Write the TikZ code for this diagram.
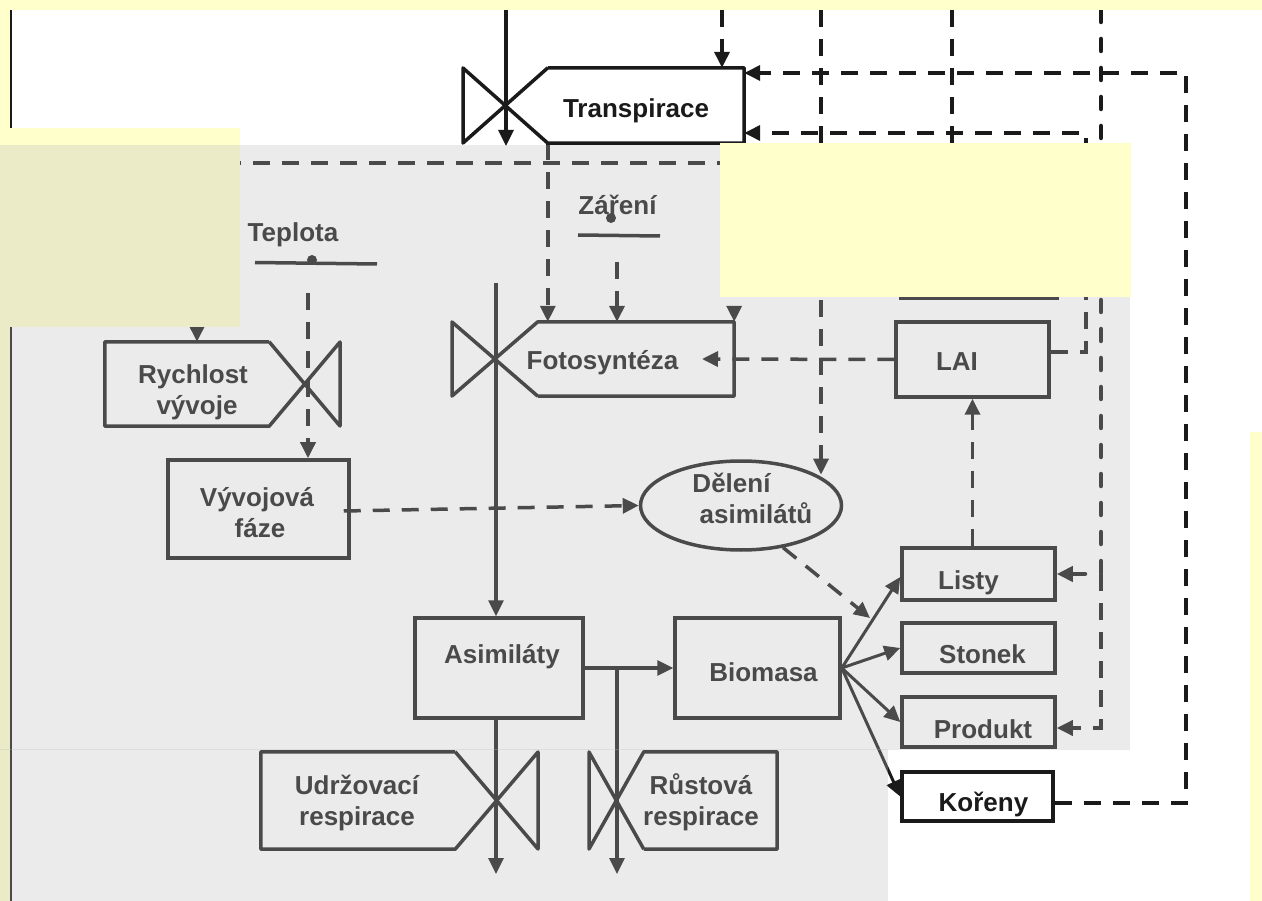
\documentclass[tikz,border=0pt]{standalone}
\usepackage{fontspec}
\setmainfont{Liberation Sans}
\usetikzlibrary{arrows.meta,calc,shapes.geometric}
\definecolor{ink}{RGB}{26,26,26}
\definecolor{paleyellow}{RGB}{255,255,204}
\definecolor{veil}{RGB}{190,190,190}
\begin{document}
\begin{tikzpicture}[x=1pt,y=-1pt,
  box/.style={draw=ink, line width=3.5pt, inner sep=0pt, rectangle},
  area/.style={draw=none, inner sep=0pt, rectangle},
  outline/.style={draw=ink, line width=3.5pt, line join=round},
  lbl/.style={text=ink, font=\bfseries\fontsize{26}{31}\selectfont, anchor=base, inner sep=0pt},
  flow/.style={draw=ink, line width=3.2pt, -{Triangle[length=16pt,width=15pt]}},
  info/.style={draw=ink, line width=3.5pt, dash pattern=on 17pt off 12pt, -{Triangle[length=16pt,width=15pt]}},
  roundinfo/.style={draw=ink, line width=4.5pt, line cap=round, dash pattern=on 12pt off 17pt, -{Triangle[length=16pt,width=15pt]}},
  symline/.style={draw=ink, line width=3.5pt}
]
\useasboundingbox (0,0) rectangle (1262,901);
\fill[white] (0,0) rectangle (1262,901);

% page frame line on the left
\draw[ink, line width=2pt] (11,10) -- (11,901);

% ---------- nodes ----------
% Transpirace (valve with chamfered box)
\node[area, minimum width=196pt, minimum height=75pt] (transp) at (646,105.5) {};
\draw[outline] (transp.north west) -- (transp.north east) -- (transp.south east)
  -- (transp.south west) -- (463,68) -- (463,143) -- (transp.north west);
\node[lbl] (transpT) at (636,118) {Transpirace};

% Fotosynteza
\node[area, minimum width=196pt, minimum height=74pt] (foto) at (636,359) {};
\draw[outline] (foto.south west) -- (foto.south east) -- (foto.north east)
  -- (foto.north west) -- (452,396) -- (452,322) -- (foto.south west);
\node[lbl] (fotoT) at (602.5,370) {Fotosyntéza};

% Rychlost vyvoje
\node[area, minimum width=164pt, minimum height=84pt] (rych) at (187,384) {};
\draw[outline] (rych.north east) -- (rych.north west) -- (rych.south west)
  -- (rych.south east) -- (340,342) -- (340,426) -- (rych.north east);
\node[lbl] (rychT1) at (193,384) {Rychlost};
\node[lbl] (rychT2) at (197,415) {vývoje};

% Udrzovaci respirace
\node[area, minimum width=194pt, minimum height=97pt] (udrz) at (358,800.5) {};
\draw[outline] (udrz.north east) -- (udrz.north west) -- (udrz.south west)
  -- (udrz.south east) -- (538,752) -- (538,849) -- (udrz.north east);
\node[lbl] (udrzT1) at (357,794) {Udržovací};
\node[lbl] (udrzT2) at (357,825) {respirace};

% Rustova respirace
\node[area, minimum width=133pt, minimum height=97pt] (rust) at (710.5,800.5) {};
\draw[outline] (rust.south west) -- (rust.south east) -- (rust.north east)
  -- (rust.north west) -- (589,849) -- (589,752) -- (rust.south west);
\node[lbl] (rustT1) at (701,794) {Růstová};
\node[lbl] (rustT2) at (701,825) {respirace};

% plain boxes
\node[box, minimum width=181pt, minimum height=98pt] (vyv) at (258.5,509) {};
\node[lbl] (vyvT1) at (257,506) {Vývojová};
\node[lbl] (vyvT2) at (260,537) {fáze};

\node[box, minimum width=153pt, minimum height=75pt] (lai) at (972.5,359.5) {};
\node[lbl] (laiT) at (957,371) {LAI};

\node[box, minimum width=156pt, minimum height=108pt] (zasoba) at (979,244) {};

\node[box, minimum width=168pt, minimum height=100pt] (asim) at (499,668) {};
\node[lbl] (asimT) at (502,663) {Asimiláty};

\node[box, minimum width=165pt, minimum height=100pt] (biomasa) at (757.5,668) {};
\node[lbl] (bioT) at (763.5,681) {Biomasa};

\node[box, minimum width=153pt, minimum height=52pt] (listy) at (978.5,574) {};
\node[lbl] (listyT) at (968.5,589) {Listy};

\node[box, minimum width=153pt, minimum height=50pt] (stonek) at (978.5,648) {};
\node[lbl] (stonekT) at (982.5,663) {Stonek};

\node[box, minimum width=153pt, minimum height=50pt] (produkt) at (978.5,722) {};
\node[lbl] (produktT) at (983,738) {Produkt};

\node[box, minimum width=151pt, minimum height=49pt] (koreny) at (977.5,796.5) {};
\node[lbl] (korenyT) at (983.5,811) {Kořeny};

\node[draw=ink, line width=3.5pt, ellipse, inner sep=0pt,
      minimum width=201pt, minimum height=89pt] (deleni) at (741,505.5) {};
\node[lbl] (delT1) at (731.5,492) {Dělení};
\node[lbl] (delT2) at (756,523) {asimilátů};

% driving variables
\node[lbl] (teplT) at (293,242) {Teplota};
\draw[symline] (255,262.5) -- (377,264);
\fill[ink] (312,260) circle (5);
\node[lbl] (zarT) at (617.5,215) {Záření};
\draw[symline] (578,235) -- (660,236);
\fill[ink] (611,218) circle (5);

% ---------- material flows ----------
\coordinate (wtop) at (506,10);
\coordinate (wend) at (506,146);
\draw[flow] (wtop) -- (wend);

\coordinate (cin) at (496,283);
\draw[flow] (cin) -- (cin |- asim.north);
\draw[flow] (asim.east) -- (biomasa.west);
\coordinate (split) at (617,668);
\coordinate (rustout) at (617,874);
\draw[flow] (split) -- (rustout);
\coordinate (udrzout) at (496,874);
\draw[flow] (cin |- asim.south) -- (udrzout);

\draw[flow, line width=3pt] (biomasa.east) -- ($(listy.west)+(0,3)$);
\draw[flow, line width=3pt] (biomasa.east) -- (stonek.west);
\draw[flow, line width=3pt] (biomasa.east) -- (produkt.west);
\draw[flow, line width=3pt] (biomasa.east) -- (koreny.west);

% ---------- information links ----------
\draw[info] (transp.south west) -- (transp.south west |- foto.north);
\coordinate (zin) at (617,262);
\draw[info] (zin) -- (zin |- foto.north);
\coordinate (tj) at (734,163);
\draw[info] (tj) -- (foto.north east);
\coordinate (rturn) at (197,163);
\draw[info] (tj) -- (rturn) -- (rturn |- rych.north);
\coordinate (tpin) at (308,293);
\draw[info] (tpin) -- (tpin |- vyv.north);
\draw[info] ($(vyv.east)+(-7,2)$) -- (deleni.west);
\coordinate (fotoin) at (702,359);
\draw[info] (lai.west) -- (fotoin);
\coordinate (dtip) at (870,618);
\draw[info] (deleni.-45) -- (dtip);
\draw[info] (lai.south |- listy.north) -- (lai.south);

\coordinate (k722) at (722,10);
\draw[info] (k722) -- (k722 |- transp.north);
\coordinate (k821) at (821,10);
\draw[info] (k821) -- (k821 |- deleni.22);
\coordinate (k952) at (952,10);
\draw[info] (k952) -- (k952 |- zasoba.north);

\coordinate (kr) at (1186,803);
\coordinate (ku) at (1186,73);
\draw[info] (koreny.east |- kr) -- (kr) -- (ku) -- (transp.east |- ku);

\coordinate (lr) at (1086,352);
\coordinate (lu) at (1086,133);
\draw[info] (lai.east |- lr) -- (lr) -- (lu) -- (transp.east |- lu);

\coordinate (rt) at (1101,10);
\coordinate (rm) at (1101,574);
\coordinate (rb) at (1101,728);
\draw[roundinfo] (rt) -- (rm) -- (listy.east);
\draw[info] (rm) -- (rb) -- (produkt.east |- rb);

% ---------- colour fields ----------
\fill[paleyellow] (0,128) rectangle (240,327);
\fill[paleyellow] (0,0) rectangle (10,901);
\fill[paleyellow] (0,0) rectangle (1262,10);

\fill[veil, opacity=0.293] (0,145) rectangle (1130,749.5);
\fill[veil, opacity=0.293] (0,748.5) rectangle (888,901);

\fill[paleyellow] (720,143) rectangle (1131,297);
\fill[paleyellow] (1250,432) rectangle (1262,901);
\end{tikzpicture}
\end{document}
